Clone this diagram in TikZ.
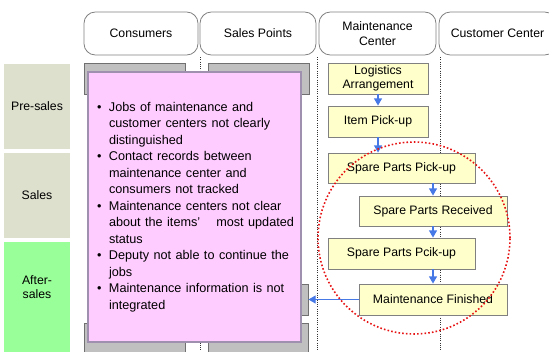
\documentclass[tikz,border=0pt]{standalone}
\usepackage{fontspec}
\setmainfont{Liberation Sans}
\usetikzlibrary{arrows.meta}

\definecolor{phasegray}{RGB}{222,224,206}
\definecolor{phasegreen}{RGB}{153,255,153}
\definecolor{laneborder}{RGB}{128,128,128}
\definecolor{blockfill}{RGB}{192,192,192}
\definecolor{blockborder}{RGB}{112,112,112}
\definecolor{notefill}{RGB}{255,204,255}
\definecolor{noteborder}{RGB}{160,144,176}
\definecolor{stepfill}{RGB}{255,255,204}
\definecolor{flowblue}{RGB}{70,120,230}
\definecolor{focusred}{RGB}{230,20,20}

\tikzset{
  wh/.style 2 args={minimum width=#1*0.75pt, minimum height=#2*0.75pt},
  txt/.style={font=\fontsize{9.2}{10.7}\selectfont},
  lane/.style={draw=laneborder, fill=white, rounded corners=8.5pt, inner sep=0pt,
    align=center, txt, line width=0.6pt},
  phase/.style={fill=#1, inner sep=0pt, align=center, txt},
  block/.style={draw=blockborder, fill=blockfill, inner sep=0pt, line width=0.6pt},
  note/.style={draw=noteborder, fill=notefill, inner xsep=6.75pt, inner ysep=0pt,
    line width=0.8pt, align=left},
  stepbox/.style={draw=laneborder, fill=stepfill, inner sep=0pt, align=center, txt,
    line width=0.6pt},
  flow/.style={draw=flowblue, line width=1.1pt, -{Triangle[length=5.5pt,width=6pt]}},
  divider/.style={draw=black!80, line width=0.6pt, dash pattern=on 0.6pt off 1.1pt},
  focus/.style={circle, draw=focusred, line width=1.2pt,
    dash pattern=on 1.2pt off 1.6pt, inner sep=0pt},
}

\begin{document}
\begin{tikzpicture}[x=0.75pt, y=-0.75pt]
\useasboundingbox (0,0) rectangle (549,351);
\clip (0,0) rectangle (549,351);

% phase column
\node[phase=phasegray, wh={66}{85}] (presales) at (37,106.5) {Pre-sales};
\node[phase=phasegray, wh={66}{85}] (sales) at (37,195.5) {Sales};
\node[phase=phasegreen, wh={66}{116}] (aftersales) at (37,300) {};
\node[txt, align=center, inner sep=0pt] (aftersalesLabel) at (37,287) {After-\\sales};

% swimlane separators
\draw[divider] (200,57) -- (200,351);
\draw[divider] (317,57) -- (317,351);
\draw[divider] (440,57) -- (440,351);

% swimlane headers
\node[lane, wh={114}{43}] (consumers) at (141,33.5) {Consumers};
\node[lane, wh={116}{43}] (salespoints) at (258,33.5) {Sales Points};
\node[lane, wh={117}{43}] (maintcenter) at (377.5,33.5) {Maintenance\\Center};
\node[lane, wh={117}{43}] (custcenter) at (497.5,33.5) {Customer Center};

% grey activity blocks
\node[block, wh={101}{31}] (blockA) at (134.5,78.5) {};
\node[block, wh={101}{31}] (blockB) at (258.5,78.5) {};
\node[block, wh={100}{31}] (blockC) at (258,299.5) {};
\node[block, wh={101}{31}] (blockD) at (134.5,338.5) {};
\node[block, wh={100}{31}] (blockE) at (258,338.5) {};

% issue list
\node[note, wh={213}{270}, text width=146.25pt] (issues) at (194.5,207) {%
  \fontsize{9.5}{12.4}\selectfont
  \begin{tabular}{@{}p{9pt}@{}l@{}}
  \textbullet & Jobs of maintenance and\\
   & customer centers not clearly\\
   & distinguished\\
  \textbullet & Contact records between\\
   & maintenance center and\\
   & consumers not tracked\\
  \textbullet & Maintenance centers not clear\\
   & about the items’\hspace{12pt}most updated\\
   & status\\
  \textbullet & Deputy not able to continue the\\
   & jobs\\
  \textbullet & Maintenance information is not\\
   & integrated
  \end{tabular}};

% maintenance center process
\node[stepbox, wh={100}{31}] (logistics) at (378,78.5) {Logistics\\Arrangement};
\node[stepbox, wh={100}{31}] (pickup) at (378,121.5) {Item Pick-up};
\node[stepbox, wh={147}{30}] (sparepick) at (401.5,168) {Spare Parts Pick-up};
\node[stepbox, wh={148}{30}] (sparerecv) at (433,211) {Spare Parts Received};
\node[stepbox, wh={147}{31}] (sparepick2) at (401.5,253.5) {Spare Parts Pcik-up};
\node[stepbox, wh={148}{31}] (finished) at (433,299.5) {Maintenance Finished};

\draw[flow] (logistics) -- (pickup);
\draw[flow] (pickup) -- (pickup |- sparepick.north);
\draw[flow] (sparepick.south -| sparerecv) -- (sparerecv);
\draw[flow] (sparerecv) -- (sparerecv |- sparepick2.north);
\draw[flow] (sparepick2.south -| finished) -- (finished);
\draw[flow] (finished.west) -- (blockC.east);

% highlighted area
\node[focus, minimum size=144pt] (focusarea) at (414,238) {};
\end{tikzpicture}
\end{document}
